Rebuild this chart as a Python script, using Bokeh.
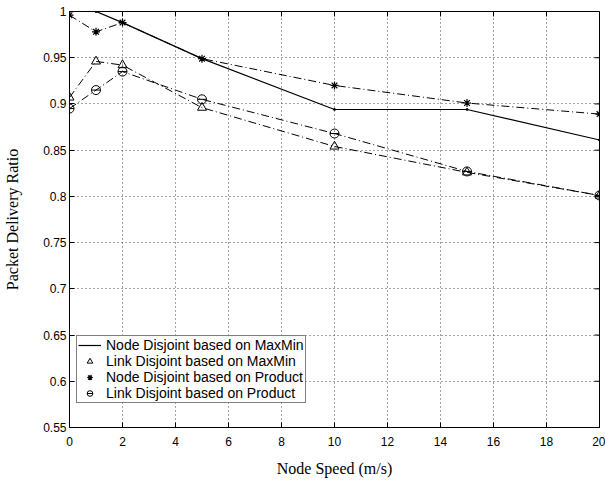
import math
from bokeh.plotting import figure
from bokeh.models import (Range1d, FixedTicker, CustomJSTickFormatter,
                          Legend, LegendItem)
from bokeh.embed import file_html
from bokeh.resources import INLINE

speeds = [0, 1, 2, 5, 10, 15, 20]
node_maxmin = [1.0, 1.0, 0.988, 0.949, 0.894, 0.894, 0.861]
link_maxmin = [0.907, 0.946, 0.942, 0.896, 0.854, 0.826, 0.801]
node_product = [0.996, 0.978, 0.988, 0.949, 0.920, 0.901, 0.889]
link_product = [0.895, 0.915, 0.935, 0.905, 0.868, 0.827, 0.801]

names = ["Node Disjoint based on MaxMin", "Link Disjoint based on MaxMin",
         "Node Disjoint based on Product", "Link Disjoint based on Product"]
x_ticks = [0, 2, 4, 6, 8, 10, 12, 14, 16, 18, 20]
y_ticks = [0.55, 0.6, 0.65, 0.7, 0.75, 0.8, 0.85, 0.9, 0.95, 1.0]
x_min, x_max = 0, 20
y_min, y_max = 0.55, 1.0

p = figure(width=605, height=481, output_backend="svg", toolbar_location=None,
           x_range=Range1d(x_min, x_max), y_range=Range1d(y_min, y_max),
           min_border_left=69, min_border_right=6, min_border_top=11, min_border_bottom=54)
p.background_fill_color = "white"
p.border_fill_color = "white"
p.outline_line_color = "black"
p.outline_line_width = 1

tick_font = "Liberation Sans"
for ax in [p.xaxis[0], p.yaxis[0]]:
    ax.major_tick_in = 5
    ax.major_tick_out = 0
    ax.minor_tick_in = 0
    ax.minor_tick_out = 0
    ax.axis_line_color = "black"
    ax.major_tick_line_color = "black"
    ax.major_label_text_font = tick_font
    ax.major_label_text_font_size = "12px"
    ax.major_label_text_color = "black"
    ax.axis_label_text_font = "Liberation Serif"
    ax.axis_label_text_font_size = "16px"
    ax.axis_label_text_font_style = "normal"
    ax.axis_label_text_color = "black"

p.xaxis[0].ticker = FixedTicker(ticks=x_ticks)
p.yaxis[0].ticker = FixedTicker(ticks=y_ticks)
p.yaxis[0].formatter = CustomJSTickFormatter(
    code="var s = tick.toFixed(2); s = s.replace(/0+$/, ''); return s.replace(/\\.$/, '');")
p.xaxis[0].axis_label = "Node Speed (m/s)"
p.yaxis[0].axis_label = "Packet Delivery Ratio"
p.xaxis[0].major_label_standoff = 9
p.yaxis[0].major_label_standoff = 3
p.xaxis[0].axis_label_standoff = 11
p.yaxis[0].axis_label_standoff = 19

# inward tick marks on the top and right edges of the box
p.scatter(x_ticks, [y_max] * len(x_ticks), marker="dash", angle=math.pi / 2,
          size=10, line_color="black", line_width=1)
p.scatter([x_max] * len(y_ticks), y_ticks, marker="dash", size=10,
          line_color="black", line_width=1)

p.xgrid.ticker = FixedTicker(ticks=x_ticks)
p.ygrid.ticker = FixedTicker(ticks=y_ticks)
for g in [p.xgrid[0], p.ygrid[0]]:
    g.grid_line_color = "#444444"
    g.grid_line_dash = "1 3"
    g.grid_line_width = 1

dash = "8 3 1 3"
r1 = p.line(speeds, node_maxmin, line_color="black", line_width=1.2)
m1 = p.scatter(speeds, node_maxmin, marker="circle", size=2, color="black")

r2 = p.line(speeds, link_maxmin, line_color="black", line_width=1, line_dash=dash)
m2 = p.scatter(speeds, link_maxmin, marker="triangle", size=9, fill_color=None,
               line_color="black", line_width=1)

r3 = p.line(speeds, node_product, line_color="black", line_width=1, line_dash=dash)
m3 = p.scatter(speeds, node_product, marker="asterisk", size=8, line_color="black", line_width=1.2)

r4 = p.line(speeds, link_product, line_color="black", line_width=1, line_dash=dash)
m4 = p.scatter(speeds, link_product, marker="circle", size=9, fill_color=None,
               line_color="black", line_width=1)
m4b = p.scatter(speeds, link_product, marker="dash", size=9, line_color="black", line_width=1)

# legend-only sample lines (dotted, as in the reference key)
l2 = p.line([], [], line_color="black", line_width=1, line_dash="1 3")

legend = Legend(items=[
    LegendItem(label=names[0], renderers=[r1]),
    LegendItem(label=names[1], renderers=[l2, m2]),
    LegendItem(label=names[2], renderers=[l2, m3]),
    LegendItem(label=names[3], renderers=[l2, m4, m4b]),
], location=(7, 24))
legend.label_text_font = tick_font
legend.label_text_font_size = "14px"
legend.label_text_line_height = 1.0
legend.label_text_color = "black"
legend.label_height = 12
legend.glyph_height = 14
legend.glyph_width = 23
legend.spacing = 0
legend.padding = 1
legend.margin = 0
legend.label_standoff = 5
legend.border_line_color = "black"
legend.border_line_width = 1
legend.background_fill_alpha = 1
p.add_layout(legend, "center")

open("out.html", "w").write(file_html(p, INLINE))
